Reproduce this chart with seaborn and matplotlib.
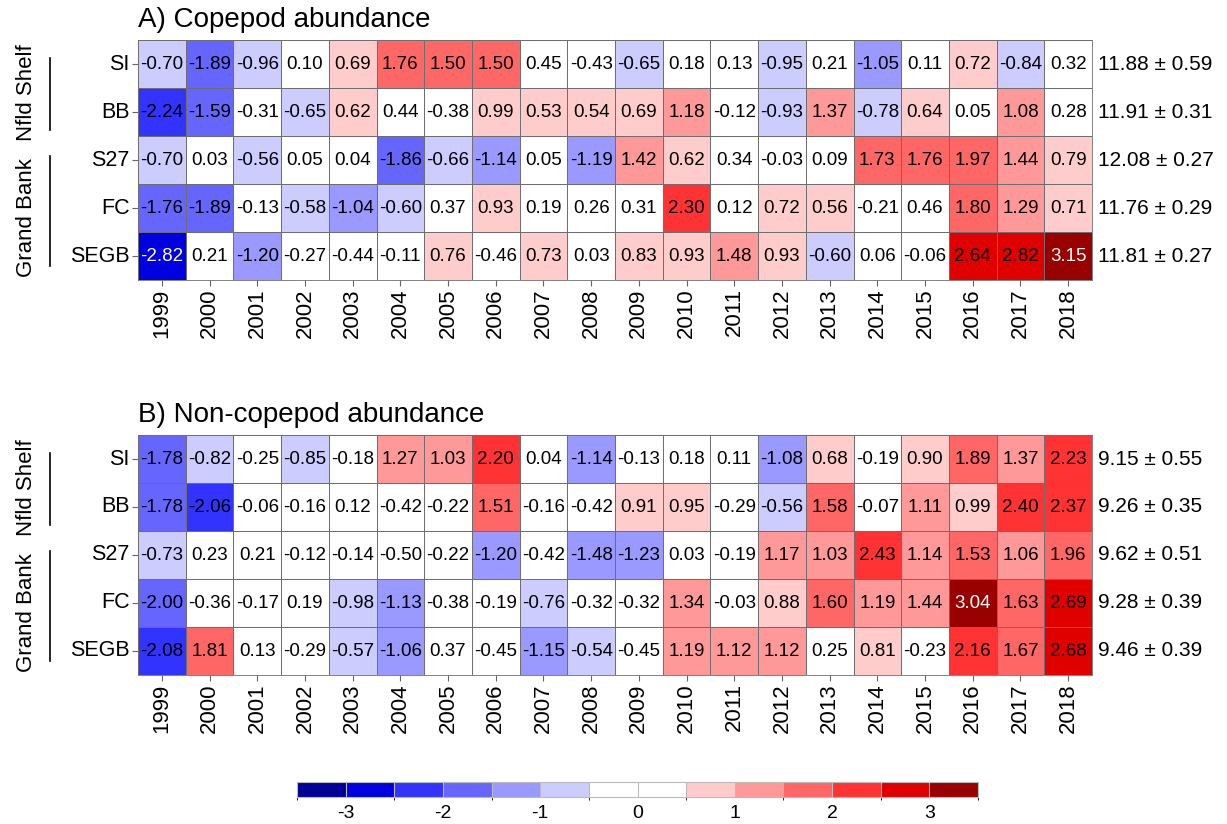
import numpy as np
import pandas as pd
import matplotlib
matplotlib.use("Agg")
import matplotlib.pyplot as plt
from matplotlib.colors import ListedColormap, BoundaryNorm
from matplotlib.cm import ScalarMappable
import seaborn as sns

plt.rcParams["font.family"] = ["Liberation Sans", "DejaVu Sans"]

years = [str(y) for y in range(1999, 2019)]
stations = ["SI", "BB", "S27", "FC", "SEGB"]

# Copepod abundance anomalies (rows: stations, columns: years)
copepod_si = [-0.70, -1.89, -0.96, 0.10, 0.69, 1.76, 1.50, 1.50, 0.45, -0.43,
              -0.65, 0.18, 0.13, -0.95, 0.21, -1.05, 0.11, 0.72, -0.84, 0.32]
copepod_bb = [-2.24, -1.59, -0.31, -0.65, 0.62, 0.44, -0.38, 0.99, 0.53, 0.54,
              0.69, 1.18, -0.12, -0.93, 1.37, -0.78, 0.64, 0.05, 1.08, 0.28]
copepod_s27 = [-0.70, 0.03, -0.56, 0.05, 0.04, -1.86, -0.66, -1.14, 0.05, -1.19,
               1.42, 0.62, 0.34, -0.03, 0.09, 1.73, 1.76, 1.97, 1.44, 0.79]
copepod_fc = [-1.76, -1.89, -0.13, -0.58, -1.04, -0.60, 0.37, 0.93, 0.19, 0.26,
              0.31, 2.30, 0.12, 0.72, 0.56, -0.21, 0.46, 1.80, 1.29, 0.71]
copepod_segb = [-2.82, 0.21, -1.20, -0.27, -0.44, -0.11, 0.76, -0.46, 0.73, 0.03,
                0.83, 0.93, 1.48, 0.93, -0.60, 0.06, -0.06, 2.64, 2.82, 3.15]
copepod_stats = ["11.88 \u00b1 0.59", "11.91 \u00b1 0.31", "12.08 \u00b1 0.27",
                 "11.76 \u00b1 0.29", "11.81 \u00b1 0.27"]

# Non-copepod abundance anomalies
noncop_si = [-1.78, -0.82, -0.25, -0.85, -0.18, 1.27, 1.03, 2.20, 0.04, -1.14,
             -0.13, 0.18, 0.11, -1.08, 0.68, -0.19, 0.90, 1.89, 1.37, 2.23]
noncop_bb = [-1.78, -2.06, -0.06, -0.16, 0.12, -0.42, -0.22, 1.51, -0.16, -0.42,
             0.91, 0.95, -0.29, -0.56, 1.58, -0.07, 1.11, 0.99, 2.40, 2.37]
noncop_s27 = [-0.73, 0.23, 0.21, -0.12, -0.14, -0.50, -0.22, -1.20, -0.42, -1.48,
              -1.23, 0.03, -0.19, 1.17, 1.03, 2.43, 1.14, 1.53, 1.06, 1.96]
noncop_fc = [-2.00, -0.36, -0.17, 0.19, -0.98, -1.13, -0.38, -0.19, -0.76, -0.32,
             -0.32, 1.34, -0.03, 0.88, 1.60, 1.19, 1.44, 3.04, 1.63, 2.69]
noncop_segb = [-2.08, 1.81, 0.13, -0.29, -0.57, -1.06, 0.37, -0.45, -1.15, -0.54,
               -0.45, 1.19, 1.12, 1.12, 0.25, 0.81, -0.23, 2.16, 1.67, 2.68]
noncop_stats = ["9.15 \u00b1 0.55", "9.26 \u00b1 0.35", "9.62 \u00b1 0.51",
                "9.28 \u00b1 0.39", "9.46 \u00b1 0.39"]

colorbar_ticks = [-3, -2, -1, 0, 1, 2, 3]

# Discrete anomaly palette, 0.5-wide bins from -3.5 to 3.5
bin_colors = ["#000099", "#0000E0", "#3333FF", "#6666FF", "#9999FF", "#CCCCFF",
              "#FFFFFF", "#FFFFFF", "#FFCCCC", "#FF9999", "#FF6666", "#FF3333",
              "#E00000", "#990000"]
cmap = ListedColormap(bin_colors)
bounds = np.arange(-3.5, 3.51, 0.5)
norm = BoundaryNorm(bounds, cmap.N)

EDGE = "#6e6e6e"

fig = plt.figure(figsize=(12.27, 8.24), dpi=100)


def draw_panel(rect, rows, stats, title):
    ax = fig.add_axes(rect)
    df = pd.DataFrame(rows, index=stations, columns=years)
    sns.heatmap(df, ax=ax, cmap=cmap, norm=norm, cbar=False,
                annot=True, fmt=".2f", annot_kws={"size": 13.5},
                linewidths=0.5, linecolor=EDGE)
    vals = df.values.ravel()
    for txt, v in zip(ax.texts, vals):
        txt.set_color("white" if (v < -2.5 or v >= 3) else "black")
    for s in ax.spines.values():
        s.set_visible(True)
        s.set_color(EDGE)
        s.set_linewidth(0.6)
    ax.set_xlabel("")
    ax.set_ylabel("")
    ax.tick_params(axis="both", length=4, width=0.8, color="#666666", pad=2)
    ax.set_yticklabels(stations, rotation=0, fontsize=15.5)
    ax.set_xticklabels(years, rotation=90, fontsize=16)
    # station means on the right
    for i, s in enumerate(stats):
        ax.text(20.12, i + 0.5, s, ha="left", va="center", fontsize=15,
                clip_on=False)
    # region brackets
    ax.plot([-1.845, -1.845], [0.375, 1.875], color="black", lw=1.2,
            clip_on=False)
    ax.plot([-1.845, -1.845], [2.42, 4.71], color="black", lw=1.2,
            clip_on=False)
    ax.text(-2.33, 1.1, "Nfld Shelf", rotation=90, ha="center", va="center",
            fontsize=16, clip_on=False)
    ax.text(-2.33, 3.7, "Grand Bank", rotation=90, ha="center", va="center",
            fontsize=16, clip_on=False)
    ax.annotate(title, xy=(0, 1), xycoords="axes fraction",
                xytext=(0, 9.5), textcoords="offset points",
                ha="left", va="baseline", fontsize=20)
    return ax


W, H = 1227, 824
ax_a = draw_panel([138 / W, 1 - 280 / H, 954 / W, 240 / H],
                  [copepod_si, copepod_bb, copepod_s27, copepod_fc, copepod_segb],
                  copepod_stats, "A) Copepod abundance")
ax_b = draw_panel([138 / W, 1 - 675 / H, 954 / W, 240 / H],
                  [noncop_si, noncop_bb, noncop_s27, noncop_fc, noncop_segb],
                  noncop_stats, "B) Non-copepod abundance")

cax = fig.add_axes([297 / W, 1 - 797 / H, 681 / W, 15 / H])
cb = fig.colorbar(ScalarMappable(norm=norm, cmap=cmap), cax=cax,
                  orientation="horizontal", ticks=colorbar_ticks,
                  drawedges=True)
cb.dividers.set_color("#bbbbbb")
cb.dividers.set_linewidth(0.8)
cb.outline.set_edgecolor("#bbbbbb")
cb.outline.set_linewidth(0.8)
cax.tick_params(length=0, pad=6, labelsize=14)
cax.set_xticklabels([str(t) for t in colorbar_ticks])

fig.savefig("out.png", dpi=100)
